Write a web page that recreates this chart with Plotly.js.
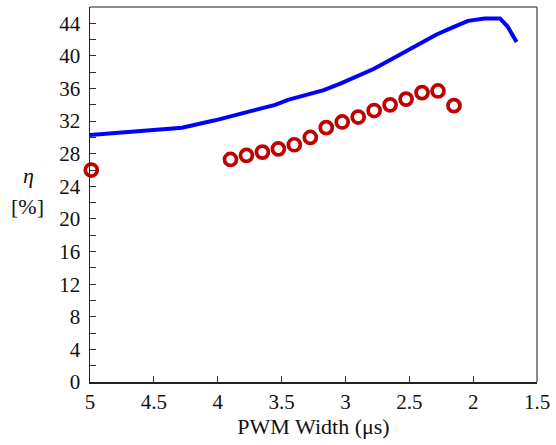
<!DOCTYPE html>
<html>
<head>
<meta charset="utf-8">
<script src="https://cdn.plot.ly/plotly-3.0.1.min.js"></script>
<style>html,body{margin:0;padding:0;background:#fff;}#chart{width:556px;height:445px;}</style>
</head>
<body>
<div id="chart"></div>
<script>
const lineX = [5.0, 4.28, 4.02, 3.76, 3.55, 3.45, 3.33, 3.17, 3.04, 2.91, 2.78, 2.65, 2.50, 2.44, 2.29, 2.16, 2.04, 1.91, 1.79, 1.73, 1.66];
const lineY = [30.3, 31.2, 32.1, 33.1, 34.0, 34.6, 35.1, 35.8, 36.6, 37.5, 38.4, 39.5, 40.8, 41.2, 42.6, 43.5, 44.3, 44.6, 44.6, 43.6, 41.7];
const dotX = [4.99, 3.9, 3.775, 3.65, 3.525, 3.4, 3.275, 3.15, 3.025, 2.9, 2.775, 2.65, 2.525, 2.4, 2.275, 2.15];
const dotY = [26.0, 27.3, 27.8, 28.2, 28.6, 29.1, 30.0, 31.2, 31.9, 32.5, 33.3, 34.0, 34.7, 35.5, 35.7, 33.9];
const xTicks = [5, 4.5, 4, 3.5, 3, 2.5, 2, 1.5];
const yTicks = [0, 4, 8, 12, 16, 20, 24, 28, 32, 36, 40, 44];

const tickFont = {family: 'Liberation Serif', size: 21, color: '#111'};
const titleFont = {family: 'Liberation Serif', size: 22, color: '#111'};

const data = [
  {x: lineX, y: lineY, type: 'scatter', mode: 'lines', line: {color: '#0000ff', width: 4}, cliponaxis: false, showlegend: false},
  {x: dotX, y: dotY, type: 'scatter', mode: 'markers', cliponaxis: false, showlegend: false,
   marker: {symbol: 'circle-open', size: 12, color: '#c00000', line: {width: 3.7, color: '#c00000'}}}
];

const layout = {
  width: 556, height: 445,
  margin: {l: 90, r: 19, t: 7, b: 63},
  paper_bgcolor: '#fff', plot_bgcolor: '#fff',
  font: tickFont,
  xaxis: {
    range: [5, 1.5], tickvals: xTicks, ticktext: xTicks.map(String),
    ticks: 'inside', ticklen: 6, tickcolor: '#333', tickwidth: 1,
    showline: true, linecolor: '#222', linewidth: 1.5, showgrid: false, zeroline: false,
    tickfont: tickFont,
    title: {text: 'PWM Width (μs)', font: titleFont, standoff: 2}
  },
  yaxis: {
    range: [0, 46], tickvals: yTicks, ticktext: yTicks.map(String),
    ticks: 'inside', ticklen: 6, tickcolor: '#333', tickwidth: 1,
    ticklabelstandoff: 4,
    minor: {tickvals: [2,6,10,14,18,22,26,30,34,38,42], ticks: 'inside', ticklen: 6, tickcolor: '#333'},
    showline: true, linecolor: '#222', linewidth: 1.5, showgrid: false, zeroline: false,
    tickfont: tickFont
  },
  shapes: [
    {type: 'line', xref: 'paper', yref: 'paper', x0: 0, x1: 1, y0: 1, y1: 1, line: {color: '#666', width: 1.5}},
    {type: 'line', xref: 'paper', yref: 'paper', x0: 1, x1: 1, y0: 0, y1: 1, line: {color: '#666', width: 1.5}}
  ],
  annotations: [
    {text: '<i>η</i>', xref: 'paper', yref: 'paper', x: -0.138, y: 0.55, xanchor: 'center', yanchor: 'middle', showarrow: false, font: titleFont},
    {text: '[%]', xref: 'paper', yref: 'paper', x: -0.14, y: 0.467, xanchor: 'center', yanchor: 'middle', showarrow: false, font: titleFont}
  ]
};

Plotly.newPlot('chart', data, layout, {displayModeBar: false, staticPlot: true});
</script>
</body>
</html>
